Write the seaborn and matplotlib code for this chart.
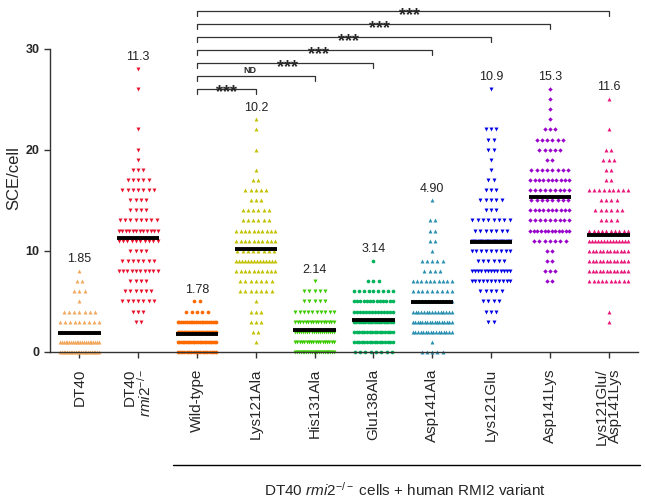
import numpy as np
import pandas as pd
import matplotlib
matplotlib.use("Agg")
import matplotlib.pyplot as plt
from matplotlib.lines import Line2D
import seaborn as sns

# ---------------- data (SCE per cell: value -> number of cells) ----------------
groups = ["DT40", "rmi2", "Wild-type", "Lys121Ala", "His131Ala", "Glu138Ala",
          "Asp141Ala", "Lys121Glu", "Asp141Lys", "Lys121Glu/Asp141Lys"]
tick_labels = ["DT40", "DT40\n$\\mathit{rmi2}^{-/-}$", "Wild-type", "Lys121Ala", "His131Ala",
               "Glu138Ala", "Asp141Ala", "Lys121Glu", "Asp141Lys", "Lys121Glu/\nAsp141Lys"]

dt40_vals = [0, 1, 2, 3, 4, 5, 6, 7, 8]
dt40_counts = [23, 22, 23, 9, 7, 1, 3, 2, 1]
rmi2_vals = [3, 4, 5, 6, 7, 8, 9, 10, 11, 12, 13, 14, 15, 16, 17, 18, 19, 20, 22, 26, 28]
rmi2_counts = [2, 3, 7, 6, 4, 10, 7, 4, 10, 12, 8, 4, 4, 7, 5, 3, 1, 1, 1, 1, 1]
wt_vals = [0, 1, 2, 3, 4, 5]
wt_counts = [18, 24, 26, 22, 5, 2]
k121a_vals = [1, 2, 3, 4, 5, 6, 7, 8, 9, 10, 11, 12, 13, 14, 15, 16, 17, 18, 20, 22, 23]
k121a_counts = [1, 2, 3, 3, 1, 7, 7, 10, 14, 8, 10, 10, 6, 6, 3, 5, 2, 1, 1, 1, 1]
h131a_vals = [0, 1, 2, 3, 4, 5, 6, 7]
h131a_counts = [22, 18, 20, 16, 10, 5, 5, 1]
e138a_vals = [0, 1, 2, 3, 4, 5, 6, 7, 9]
e138a_counts = [8, 16, 16, 18, 14, 13, 9, 3, 1]
d141a_vals = [0, 1, 2, 3, 4, 5, 6, 7, 8, 9, 10, 11, 12, 13, 15]
d141a_counts = [5, 1, 16, 17, 15, 14, 9, 10, 4, 5, 1, 2, 2, 2, 1]
k121e_vals = [3, 4, 5, 6, 7, 8, 9, 10, 11, 12, 13, 14, 15, 16, 17, 18, 19, 20, 21, 22, 26]
k121e_counts = [2, 3, 4, 5, 11, 13, 6, 9, 12, 7, 8, 3, 5, 3, 2, 1, 1, 2, 2, 3, 1]
d141k_vals = [7, 8, 9, 10, 11, 12, 13, 14, 15, 16, 17, 18, 19, 20, 21, 22, 23, 24, 25, 26]
d141k_counts = [2, 3, 2, 2, 7, 12, 9, 10, 8, 9, 10, 8, 2, 5, 6, 3, 1, 1, 1, 1]
dbl_vals = [3, 4, 7, 8, 9, 10, 11, 12, 13, 14, 15, 16, 17, 18, 19, 20, 22, 25]
dbl_counts = [1, 1, 10, 12, 12, 12, 14, 10, 4, 6, 4, 9, 2, 2, 3, 2, 1, 1]

mean_labels = ["1.85", "11.3", "1.78", "10.2", "2.14", "3.14", "4.90", "10.9", "15.3", "11.6"]

# significance vs Wild-type
sig_targets = ["Lys121Ala", "His131Ala", "Glu138Ala", "Asp141Ala", "Lys121Glu", "Asp141Lys",
               "Lys121Glu/Asp141Lys"]
sig_labels = ["***", "ND", "***", "***", "***", "***", "***"]

colors = ["#F2A85C", "#E8102C", "#FF6A00", "#C2C200", "#3CCB00", "#00B25A",
          "#2A90B0", "#0000E6", "#9A00CC", "#E8177C"]
markers = ["^", "v", "o", "^", "v", "o", "^", "v", "D", "^"]
msizes = [8, 8, 7, 8, 8, 7, 8, 8, 5, 8]

all_vals = [dt40_vals, rmi2_vals, wt_vals, k121a_vals, h131a_vals, e138a_vals,
            d141a_vals, k121e_vals, d141k_vals, dbl_vals]
all_counts = [dt40_counts, rmi2_counts, wt_counts, k121a_counts, h131a_counts, e138a_counts,
              d141a_counts, k121e_counts, d141k_counts, dbl_counts]

# ---------------- long table with scatter (GraphPad-like) offsets ----------------
rows = []
for gi, (g, vals, cnts) in enumerate(zip(groups, all_vals, all_counts)):
    for v, n in zip(vals, cnts):
        step = 0.09 if n < 2 else min(0.09, 0.66 / (n - 1))
        offs = (np.arange(n) - (n - 1) / 2.0) * step
        for o in offs:
            rows.append({"group": g, "gi": gi, "sce": v, "xpos": gi + o})
df = pd.DataFrame(rows)

# ---------------- figure ----------------
sns.set_style("ticks")
plt.rcParams["font.family"] = ["Liberation Sans", "DejaVu Sans"]
plt.rcParams["mathtext.fontset"] = "custom"
plt.rcParams["mathtext.rm"] = "Liberation Sans"
plt.rcParams["mathtext.it"] = "Liberation Sans:italic"
plt.rcParams["mathtext.bf"] = "Liberation Sans:bold"

fig = plt.figure(figsize=(6.45, 5.04), dpi=100)
ax = fig.add_axes([50 / 645, (504 - 352) / 504, 588 / 645, 347 / 504])

for gi, g in enumerate(groups):
    sub = df[df["group"] == g]
    sns.scatterplot(data=sub, x="xpos", y="sce", color=colors[gi], marker=markers[gi],
                    s=msizes[gi], linewidth=0, legend=False, clip_on=False, ax=ax, zorder=2)

means = df.groupby("gi")["sce"].mean().reindex(range(len(groups)))
maxes = df.groupby("gi")["sce"].max().reindex(range(len(groups)))
idx = np.arange(len(groups))
ax.hlines(means.values, idx - 0.36, idx + 0.36, color="black", lw=2.8, zorder=3,
          capstyle="butt")
for i, lab in enumerate(mean_labels):
    ax.text(i, maxes[i] + 1.15, lab, ha="center", va="center", fontsize=9, color="#222222")

# brackets
base = groups.index("Wild-type")
for k, (tg, lab) in enumerate(zip(sig_targets, sig_labels)):
    t = groups.index(tg)
    by = 26.0 + 1.28 * k
    ax.plot([base, base, t, t], [by - 0.5, by, by, by - 0.5], color="#333333", lw=0.9,
            clip_on=False, zorder=1)
    xm = (base + t) / 2.0
    if lab == "ND":
        ax.text(xm - 0.1, by + 0.1, lab, ha="center", va="bottom", fontsize=6.5,
                fontweight="bold", clip_on=False)
    else:
        ax.text(xm + 0.02 * k, by - 0.85, lab, ha="center", va="baseline", fontsize=13,
                fontweight="bold", clip_on=False)

ax.set_xlim(-0.5, len(groups) - 0.5)
ax.set_ylim(0, 34.3)
ax.set_yticks([0, 10, 20, 30])
ax.set_yticklabels(["0", "10", "20", "30"], fontweight="bold", fontsize=9)
ax.set_xticks(idx)
ax.set_xticklabels(tick_labels, rotation=90, fontsize=11, va="top", ha="center",
                   linespacing=0.95)
for tl in ax.get_xticklabels():
    tl.set_multialignment("right")
ax.tick_params(axis="both", length=4, width=1, color="#333333")
ax.tick_params(axis="x", pad=8)
ax.set_xlabel("")
ax.set_ylabel("SCE/cell", fontsize=12, labelpad=3)
sns.despine(ax=ax)
ax.spines["left"].set_bounds(0, 30)
for sp in ["left", "bottom"]:
    ax.spines[sp].set_linewidth(1.0)
    ax.spines[sp].set_color("#333333")

fig.add_artist(Line2D([173 / 645, 640 / 645], [1 - 465 / 504, 1 - 465 / 504],
                      transform=fig.transFigure, color="black", lw=1.0))
fig.text(405 / 645, 1 - 490 / 504,
         "DT40 $\\mathit{rmi2}^{-/-}$ cells + human RMI2 variant",
         ha="center", va="center", fontsize=11)

fig.savefig("out.png", dpi=100)
